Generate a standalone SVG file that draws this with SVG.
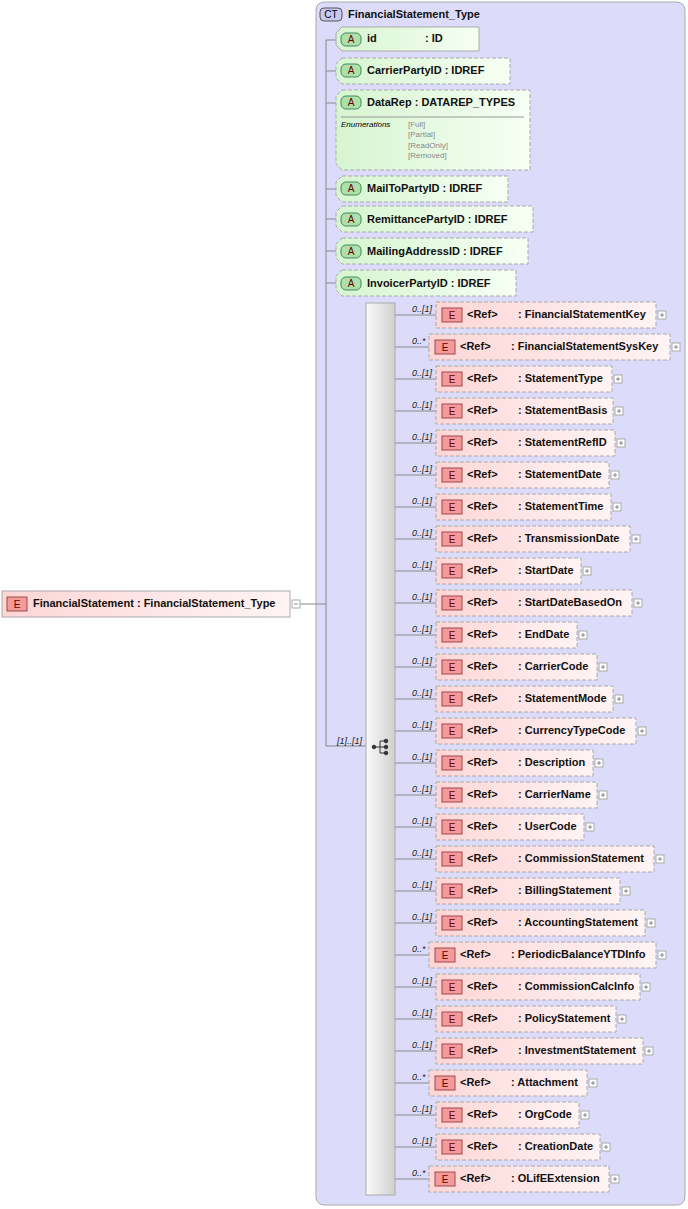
<svg xmlns="http://www.w3.org/2000/svg" width="688" height="1209" viewBox="0 0 688 1209">
<style>
text{font-family:"Liberation Sans",Arial,sans-serif}
.n{font-size:11px;font-weight:bold;fill:#111}
.c{font-size:9px;font-style:italic;fill:#222}
.en{font-size:8px;fill:#888}
.eb{fill:#f49a9a;stroke:#a04848;stroke-width:1}
.et{font-size:10px;fill:#600}
.el{fill:url(#eg);stroke:#aaa;stroke-dasharray:4,2}
.at{fill:url(#ag);stroke:#aaa;stroke-dasharray:4,2}
.ln{stroke:#888;fill:none}
.pl{fill:#fff;stroke:#aaa}
</style>
<defs>
<linearGradient id="eg" x1="0" x2="1"><stop offset="0" stop-color="#fdd6d6"/><stop offset="1" stop-color="#fff4f4"/></linearGradient>
<linearGradient id="ag" x1="0" x2="1"><stop offset="0" stop-color="#d6f5d0"/><stop offset="1" stop-color="#f6fff4"/></linearGradient>
<linearGradient id="sg" x1="0" x2="1"><stop offset="0" stop-color="#fafafa"/><stop offset="1" stop-color="#d0d0d0"/></linearGradient>
</defs>
<g id="ct">
<rect x="316" y="2" width="369" height="1203" rx="8" fill="#dcdcfa" stroke="#aaa"/>
<rect x="320" y="8" width="22" height="13" rx="4" fill="#c8c8f0" stroke="#555"/>
<text x="331" y="18" text-anchor="middle" style="font-size:10px">CT</text>
<text x="348" y="18" class="n">FinancialStatement_Type</text>
</g>
<g id="connectors">
<path class="ln" d="M326 40V746M326 40H336M326 71H336M326 103H336M326 189H336M326 219H336M326 251H336M326 283H336M326 746H366M300 604H326"/>
<path class="ln" d="M395 315H436M395 347H429M395 379H436M395 411H436M395 443H436M395 475H436M395 507H436M395 539H436M395 571H436M395 603H436M395 635H436M395 667H436M395 699H436M395 731H436M395 763H436M395 795H436M395 827H436M395 859H436M395 891H436M395 923H436M395 955H429M395 987H436M395 1019H436M395 1051H436M395 1083H429M395 1115H436M395 1147H436M395 1179H429"/>
<text x="337" y="744" class="c">[1]..[1]</text>
</g>
<g id="root">
<rect x="2" y="591" width="288" height="26" fill="url(#eg)" stroke="#aaa"/>
<rect x="7" y="597" width="20" height="14" class="eb"/><text x="17" y="608" class="et" text-anchor="middle">E</text>
<text x="33" y="607" class="n">FinancialStatement : FinancialStatement_Type</text>
<rect x="292" y="600" width="8" height="8" class="pl"/><path d="M294 604H298" stroke="#888"/>
</g>
<g id="attrs">
<g id="a-id"><path d="M342 27H479V51H342L336 45V33Z" fill="url(#ag)" stroke="#aaa"/><rect x="341" y="33" width="20" height="13" rx="5" fill="#aee0a8" stroke="#486"/><text x="351" y="43" class="et" text-anchor="middle" fill="#040">A</text><text x="367" y="42" class="n">id</text><text x="425" y="42" class="n">: ID</text></g>
<g id="a-cp"><path class="at" d="M342 58H510V84H342L336 78V64Z"/><rect x="341" y="64" width="20" height="13" rx="5" fill="#aee0a8" stroke="#486"/><text x="351" y="74" class="et" text-anchor="middle">A</text><text x="367" y="74" class="n">CarrierPartyID : IDREF</text></g>
<g id="a-dr"><path class="at" d="M342 90H530V170H342L336 164V96Z"/><rect x="341" y="96" width="20" height="13" rx="5" fill="#aee0a8" stroke="#486"/><text x="351" y="106" class="et" text-anchor="middle">A</text><text x="367" y="106" class="n">DataRep : DATAREP_TYPES</text><path d="M341 117H524" stroke="#999"/><text x="341" y="127" style="font-size:8px;font-style:italic">Enumerations</text><text x="408" y="127" class="en">[Full]</text><text x="408" y="137" class="en">[Partial]</text><text x="408" y="148" class="en">[ReadOnly]</text><text x="408" y="158" class="en">[Removed]</text></g>
<g id="a-mt"><path class="at" d="M342 176H508V202H342L336 196V182Z"/><rect x="341" y="182" width="20" height="13" rx="5" fill="#aee0a8" stroke="#486"/><text x="351" y="192" class="et" text-anchor="middle">A</text><text x="367" y="192" class="n">MailToPartyID : IDREF</text></g>
<g id="a-rp"><path class="at" d="M342 206H533V232H342L336 226V212Z"/><rect x="341" y="213" width="20" height="13" rx="5" fill="#aee0a8" stroke="#486"/><text x="351" y="223" class="et" text-anchor="middle">A</text><text x="367" y="223" class="n">RemittancePartyID : IDREF</text></g>
<g id="a-ma"><path class="at" d="M342 238H528V264H342L336 258V244Z"/><rect x="341" y="245" width="20" height="13" rx="5" fill="#aee0a8" stroke="#486"/><text x="351" y="255" class="et" text-anchor="middle">A</text><text x="367" y="255" class="n">MailingAddressID : IDREF</text></g>
<g id="a-ip"><path class="at" d="M342 270H516V296H342L336 290V276Z"/><rect x="341" y="277" width="20" height="13" rx="5" fill="#aee0a8" stroke="#486"/><text x="351" y="287" class="et" text-anchor="middle">A</text><text x="367" y="287" class="n">InvoicerPartyID : IDREF</text></g>
</g>
<g id="seq">
<rect x="366" y="303" width="29" height="892" fill="url(#sg)" stroke="#aaa"/>
<g fill="#333" stroke="#333"><circle cx="374" cy="747" r="1.8"/><path d="M374 747H380M380 741V753M380 741H386M380 747H386M380 753H386" fill="none"/><circle cx="386" cy="741" r="1.8"/><circle cx="386" cy="747" r="1.8"/><circle cx="386" cy="753" r="1.8"/></g>
</g>
<g id="elements">
<g><text x="412" y="312" class="c">0..[1]</text><rect x="436" y="302" width="220" height="26" class="el"/><rect x="442" y="308" width="20" height="14" class="eb"/><text x="452" y="319" class="et" text-anchor="middle">E</text><text x="467" y="318" class="n">&lt;Ref&gt;</text><text x="518" y="318" class="n">: FinancialStatementKey</text><rect x="658" y="311" width="8" height="8" class="pl"/><path d="M660 315H664M662 313V317" stroke="#888"/></g>
<g><text x="412" y="344" class="c">0..*</text><rect x="429" y="334" width="241" height="26" class="el"/><rect x="435" y="340" width="20" height="14" class="eb"/><text x="445" y="351" class="et" text-anchor="middle">E</text><text x="460" y="350" class="n">&lt;Ref&gt;</text><text x="511" y="350" class="n">: FinancialStatementSysKey</text><rect x="672" y="343" width="8" height="8" class="pl"/><path d="M674 347H678M676 345V349" stroke="#888"/></g>
<g><text x="412" y="376" class="c">0..[1]</text><rect x="436" y="366" width="176" height="26" class="el"/><rect x="442" y="372" width="20" height="14" class="eb"/><text x="452" y="383" class="et" text-anchor="middle">E</text><text x="467" y="382" class="n">&lt;Ref&gt;</text><text x="518" y="382" class="n">: StatementType</text><rect x="614" y="375" width="8" height="8" class="pl"/><path d="M616 379H620M618 377V381" stroke="#888"/></g>
<g><text x="412" y="408" class="c">0..[1]</text><rect x="436" y="398" width="177" height="26" class="el"/><rect x="442" y="404" width="20" height="14" class="eb"/><text x="452" y="415" class="et" text-anchor="middle">E</text><text x="467" y="414" class="n">&lt;Ref&gt;</text><text x="518" y="414" class="n">: StatementBasis</text><rect x="615" y="407" width="8" height="8" class="pl"/><path d="M617 411H621M619 409V413" stroke="#888"/></g>
<g><text x="412" y="440" class="c">0..[1]</text><rect x="436" y="430" width="179" height="26" class="el"/><rect x="442" y="436" width="20" height="14" class="eb"/><text x="452" y="447" class="et" text-anchor="middle">E</text><text x="467" y="446" class="n">&lt;Ref&gt;</text><text x="518" y="446" class="n">: StatementRefID</text><rect x="617" y="439" width="8" height="8" class="pl"/><path d="M619 443H623M621 441V445" stroke="#888"/></g>
<g><text x="412" y="472" class="c">0..[1]</text><rect x="436" y="462" width="173" height="26" class="el"/><rect x="442" y="468" width="20" height="14" class="eb"/><text x="452" y="479" class="et" text-anchor="middle">E</text><text x="467" y="478" class="n">&lt;Ref&gt;</text><text x="518" y="478" class="n">: StatementDate</text><rect x="611" y="471" width="8" height="8" class="pl"/><path d="M613 475H617M615 473V477" stroke="#888"/></g>
<g><text x="412" y="504" class="c">0..[1]</text><rect x="436" y="494" width="175" height="26" class="el"/><rect x="442" y="500" width="20" height="14" class="eb"/><text x="452" y="511" class="et" text-anchor="middle">E</text><text x="467" y="510" class="n">&lt;Ref&gt;</text><text x="518" y="510" class="n">: StatementTime</text><rect x="613" y="503" width="8" height="8" class="pl"/><path d="M615 507H619M617 505V509" stroke="#888"/></g>
<g><text x="412" y="536" class="c">0..[1]</text><rect x="436" y="526" width="194" height="26" class="el"/><rect x="442" y="532" width="20" height="14" class="eb"/><text x="452" y="543" class="et" text-anchor="middle">E</text><text x="467" y="542" class="n">&lt;Ref&gt;</text><text x="518" y="542" class="n">: TransmissionDate</text><rect x="632" y="535" width="8" height="8" class="pl"/><path d="M634 539H638M636 537V541" stroke="#888"/></g>
<g><text x="412" y="568" class="c">0..[1]</text><rect x="436" y="558" width="145" height="26" class="el"/><rect x="442" y="564" width="20" height="14" class="eb"/><text x="452" y="575" class="et" text-anchor="middle">E</text><text x="467" y="574" class="n">&lt;Ref&gt;</text><text x="518" y="574" class="n">: StartDate</text><rect x="583" y="567" width="8" height="8" class="pl"/><path d="M585 571H589M587 569V573" stroke="#888"/></g>
<g><text x="412" y="600" class="c">0..[1]</text><rect x="436" y="590" width="196" height="26" class="el"/><rect x="442" y="596" width="20" height="14" class="eb"/><text x="452" y="607" class="et" text-anchor="middle">E</text><text x="467" y="606" class="n">&lt;Ref&gt;</text><text x="518" y="606" class="n">: StartDateBasedOn</text><rect x="634" y="599" width="8" height="8" class="pl"/><path d="M636 603H640M638 601V605" stroke="#888"/></g>
<g><text x="412" y="632" class="c">0..[1]</text><rect x="436" y="622" width="141" height="26" class="el"/><rect x="442" y="628" width="20" height="14" class="eb"/><text x="452" y="639" class="et" text-anchor="middle">E</text><text x="467" y="638" class="n">&lt;Ref&gt;</text><text x="518" y="638" class="n">: EndDate</text><rect x="579" y="631" width="8" height="8" class="pl"/><path d="M581 635H585M583 633V637" stroke="#888"/></g>
<g><text x="412" y="664" class="c">0..[1]</text><rect x="436" y="654" width="161" height="26" class="el"/><rect x="442" y="660" width="20" height="14" class="eb"/><text x="452" y="671" class="et" text-anchor="middle">E</text><text x="467" y="670" class="n">&lt;Ref&gt;</text><text x="518" y="670" class="n">: CarrierCode</text><rect x="599" y="663" width="8" height="8" class="pl"/><path d="M601 667H605M603 665V669" stroke="#888"/></g>
<g><text x="412" y="696" class="c">0..[1]</text><rect x="436" y="686" width="177" height="26" class="el"/><rect x="442" y="692" width="20" height="14" class="eb"/><text x="452" y="703" class="et" text-anchor="middle">E</text><text x="467" y="702" class="n">&lt;Ref&gt;</text><text x="518" y="702" class="n">: StatementMode</text><rect x="615" y="695" width="8" height="8" class="pl"/><path d="M617 699H621M619 697V701" stroke="#888"/></g>
<g><text x="412" y="728" class="c">0..[1]</text><rect x="436" y="718" width="200" height="26" class="el"/><rect x="442" y="724" width="20" height="14" class="eb"/><text x="452" y="735" class="et" text-anchor="middle">E</text><text x="467" y="734" class="n">&lt;Ref&gt;</text><text x="518" y="734" class="n">: CurrencyTypeCode</text><rect x="638" y="727" width="8" height="8" class="pl"/><path d="M640 731H644M642 729V733" stroke="#888"/></g>
<g><text x="412" y="760" class="c">0..[1]</text><rect x="436" y="750" width="157" height="26" class="el"/><rect x="442" y="756" width="20" height="14" class="eb"/><text x="452" y="767" class="et" text-anchor="middle">E</text><text x="467" y="766" class="n">&lt;Ref&gt;</text><text x="518" y="766" class="n">: Description</text><rect x="595" y="759" width="8" height="8" class="pl"/><path d="M597 763H601M599 761V765" stroke="#888"/></g>
<g><text x="412" y="792" class="c">0..[1]</text><rect x="436" y="782" width="161" height="26" class="el"/><rect x="442" y="788" width="20" height="14" class="eb"/><text x="452" y="799" class="et" text-anchor="middle">E</text><text x="467" y="798" class="n">&lt;Ref&gt;</text><text x="518" y="798" class="n">: CarrierName</text><rect x="599" y="791" width="8" height="8" class="pl"/><path d="M601 795H605M603 793V797" stroke="#888"/></g>
<g><text x="412" y="824" class="c">0..[1]</text><rect x="436" y="814" width="148" height="26" class="el"/><rect x="442" y="820" width="20" height="14" class="eb"/><text x="452" y="831" class="et" text-anchor="middle">E</text><text x="467" y="830" class="n">&lt;Ref&gt;</text><text x="518" y="830" class="n">: UserCode</text><rect x="586" y="823" width="8" height="8" class="pl"/><path d="M588 827H592M590 825V829" stroke="#888"/></g>
<g><text x="412" y="856" class="c">0..[1]</text><rect x="436" y="846" width="218" height="26" class="el"/><rect x="442" y="852" width="20" height="14" class="eb"/><text x="452" y="863" class="et" text-anchor="middle">E</text><text x="467" y="862" class="n">&lt;Ref&gt;</text><text x="518" y="862" class="n">: CommissionStatement</text><rect x="656" y="855" width="8" height="8" class="pl"/><path d="M658 859H662M660 857V861" stroke="#888"/></g>
<g><text x="412" y="888" class="c">0..[1]</text><rect x="436" y="878" width="184" height="26" class="el"/><rect x="442" y="884" width="20" height="14" class="eb"/><text x="452" y="895" class="et" text-anchor="middle">E</text><text x="467" y="894" class="n">&lt;Ref&gt;</text><text x="518" y="894" class="n">: BillingStatement</text><rect x="622" y="887" width="8" height="8" class="pl"/><path d="M624 891H628M626 889V893" stroke="#888"/></g>
<g><text x="412" y="920" class="c">0..[1]</text><rect x="436" y="910" width="209" height="26" class="el"/><rect x="442" y="916" width="20" height="14" class="eb"/><text x="452" y="927" class="et" text-anchor="middle">E</text><text x="467" y="926" class="n">&lt;Ref&gt;</text><text x="518" y="926" class="n">: AccountingStatement</text><rect x="647" y="919" width="8" height="8" class="pl"/><path d="M649 923H653M651 921V925" stroke="#888"/></g>
<g><text x="412" y="952" class="c">0..*</text><rect x="429" y="942" width="227" height="26" class="el"/><rect x="435" y="948" width="20" height="14" class="eb"/><text x="445" y="959" class="et" text-anchor="middle">E</text><text x="460" y="958" class="n">&lt;Ref&gt;</text><text x="511" y="958" class="n">: PeriodicBalanceYTDInfo</text><rect x="658" y="951" width="8" height="8" class="pl"/><path d="M660 955H664M662 953V957" stroke="#888"/></g>
<g><text x="412" y="984" class="c">0..[1]</text><rect x="436" y="974" width="204" height="26" class="el"/><rect x="442" y="980" width="20" height="14" class="eb"/><text x="452" y="991" class="et" text-anchor="middle">E</text><text x="467" y="990" class="n">&lt;Ref&gt;</text><text x="518" y="990" class="n">: CommissionCalcInfo</text><rect x="642" y="983" width="8" height="8" class="pl"/><path d="M644 987H648M646 985V989" stroke="#888"/></g>
<g><text x="412" y="1016" class="c">0..[1]</text><rect x="436" y="1006" width="180" height="26" class="el"/><rect x="442" y="1012" width="20" height="14" class="eb"/><text x="452" y="1023" class="et" text-anchor="middle">E</text><text x="467" y="1022" class="n">&lt;Ref&gt;</text><text x="518" y="1022" class="n">: PolicyStatement</text><rect x="618" y="1015" width="8" height="8" class="pl"/><path d="M620 1019H624M622 1017V1021" stroke="#888"/></g>
<g><text x="412" y="1048" class="c">0..[1]</text><rect x="436" y="1038" width="207" height="26" class="el"/><rect x="442" y="1044" width="20" height="14" class="eb"/><text x="452" y="1055" class="et" text-anchor="middle">E</text><text x="467" y="1054" class="n">&lt;Ref&gt;</text><text x="518" y="1054" class="n">: InvestmentStatement</text><rect x="645" y="1047" width="8" height="8" class="pl"/><path d="M647 1051H651M649 1049V1053" stroke="#888"/></g>
<g><text x="412" y="1080" class="c">0..*</text><rect x="429" y="1070" width="158" height="26" class="el"/><rect x="435" y="1076" width="20" height="14" class="eb"/><text x="445" y="1087" class="et" text-anchor="middle">E</text><text x="460" y="1086" class="n">&lt;Ref&gt;</text><text x="511" y="1086" class="n">: Attachment</text><rect x="589" y="1079" width="8" height="8" class="pl"/><path d="M591 1083H595M593 1081V1085" stroke="#888"/></g>
<g><text x="412" y="1112" class="c">0..[1]</text><rect x="436" y="1102" width="143" height="26" class="el"/><rect x="442" y="1108" width="20" height="14" class="eb"/><text x="452" y="1119" class="et" text-anchor="middle">E</text><text x="467" y="1118" class="n">&lt;Ref&gt;</text><text x="518" y="1118" class="n">: OrgCode</text><rect x="581" y="1111" width="8" height="8" class="pl"/><path d="M583 1115H587M585 1113V1117" stroke="#888"/></g>
<g><text x="412" y="1144" class="c">0..[1]</text><rect x="436" y="1134" width="164" height="26" class="el"/><rect x="442" y="1140" width="20" height="14" class="eb"/><text x="452" y="1151" class="et" text-anchor="middle">E</text><text x="467" y="1150" class="n">&lt;Ref&gt;</text><text x="518" y="1150" class="n">: CreationDate</text><rect x="602" y="1143" width="8" height="8" class="pl"/><path d="M604 1147H608M606 1145V1149" stroke="#888"/></g>
<g><text x="412" y="1176" class="c">0..*</text><rect x="429" y="1166" width="180" height="26" class="el"/><rect x="435" y="1172" width="20" height="14" class="eb"/><text x="445" y="1183" class="et" text-anchor="middle">E</text><text x="460" y="1182" class="n">&lt;Ref&gt;</text><text x="511" y="1182" class="n">: OLifEExtension</text><rect x="611" y="1175" width="8" height="8" class="pl"/><path d="M613 1179H617M615 1177V1181" stroke="#888"/></g>
</g>
</svg>
